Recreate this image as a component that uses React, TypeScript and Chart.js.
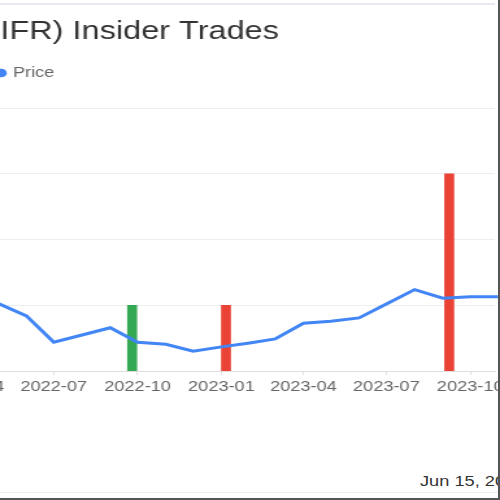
import React, { useEffect, useRef } from "react";
import { Chart, registerables } from "chart.js";

Chart.register(...registerables);

// monthly closing price (first of month)
const priceDates = [
  "2022-04-01", "2022-05-01", "2022-06-01", "2022-07-01", "2022-08-01",
  "2022-09-01", "2022-10-01", "2022-11-01", "2022-12-01", "2023-01-01",
  "2023-02-01", "2023-03-01", "2023-04-01", "2023-05-01", "2023-06-01",
  "2023-07-01", "2023-08-01", "2023-09-01", "2023-10-01", "2023-11-01",
];
const priceValues = [
  12.0, 10.3, 8.4, 4.4, 5.5,
  6.6, 4.4, 4.1, 3.05, 3.7,
  4.3, 4.9, 7.3, 7.6, 8.1,
  10.2, 12.4, 11.1, 11.3, 11.3,
];

// insider trades
const tradeDates = ["2022-09-25", "2023-01-06", "2023-09-08"];
const tradeValues = [10, 10, 30];
const tradeTypes = ["buy", "sell", "sell"];

// x axis
const tickDates = [
  "2022-04-01", "2022-07-01", "2022-10-01", "2023-01-01",
  "2023-04-01", "2023-07-01", "2023-10-01",
];
const tickLabels = [
  "2022-04", "2022-07", "2022-10", "2023-01", "2023-04", "2023-07", "2023-10",
];
const xRange = ["2022-05-03", "2023-10-28"];

const titleText = "(IFR) Insider Trades";
const dateText = "Jun 15, 2024";

const dayOf = (d: string) => Date.parse(d) / 86400000;

const FONT = '"Liberation Sans", Arial, sans-serif';
const BLUE = "#4285f4";
const GREEN = "#34a853";
const RED = "#ea4335";

const legendGap = {
  id: "legendGap",
  beforeInit(chart: any) {
    const legend = chart.legend;
    if (!legend) return;
    const fit = legend.fit;
    legend.fit = function () {
      fit.call(this);
      this.height += 18;
    };
  },
};

const App = () => {
  const canvasRef = useRef<HTMLCanvasElement | null>(null);
  const chartRef = useRef<Chart | null>(null);

  useEffect(() => {
    const ctx = canvasRef.current?.getContext("2d");
    if (!ctx) return;
    chartRef.current?.destroy();

    Chart.defaults.font.family = FONT;

    chartRef.current = new Chart(ctx, {
      type: "bar",
      data: {
        datasets: [
          {
            type: "line",
            label: "Price",
            data: priceDates.map((d, i) => ({ x: dayOf(d), y: priceValues[i] })),
            borderColor: BLUE,
            backgroundColor: BLUE,
            borderWidth: 3,
            pointRadius: 0,
            pointStyle: "circle",
            tension: 0,
            clip: false,
            order: 0,
          } as any,
          {
            type: "bar",
            label: "Trades",
            data: tradeDates.map((d, i) => ({ x: dayOf(d), y: tradeValues[i] })),
            backgroundColor: tradeTypes.map((t) => (t === "buy" ? GREEN : RED)),
            barThickness: 7,
            order: 1,
          } as any,
        ],
      },
      options: {
        responsive: false,
        devicePixelRatio: 1,
        animation: false,
        layout: { autoPadding: false, padding: { top: 0, left: -8, right: 4, bottom: 0 } },
        scales: {
          x: {
            type: "linear",
            min: dayOf(xRange[0]),
            max: dayOf(xRange[1]),
            offset: false,
            afterBuildTicks: (axis: any) => {
              axis.ticks = tickDates.map((d) => ({ value: dayOf(d) }));
            },
            afterFit: (axis: any) => {
              axis.paddingLeft = 0;
              axis.paddingRight = 0;
            },
            ticks: {
              autoSkip: false,
              maxRotation: 0,
              padding: 4,
              color: "#666",
              font: { size: 14 },
              callback: (_v: any, i: number) => tickLabels[i],
            },
            grid: {
              drawOnChartArea: false,
              drawTicks: true,
              tickLength: 4,
              color: "#e0e0e0",
              offset: false,
            },
            border: { display: true, color: "#dddddd" },
          },
          y: {
            min: 0,
            max: 40,
            afterFit: (axis: any) => {
              axis.width = 0;
              axis.paddingTop = 0;
              axis.paddingBottom = 0;
            },
            ticks: { display: false, stepSize: 10 },
            grid: { color: "#eeeeee", drawTicks: false },
            border: { display: false },
          },
        },
        plugins: {
          title: {
            display: true,
            text: titleText,
            align: "start",
            color: "#333",
            font: { size: 25, weight: "normal" },
            padding: { top: 17, bottom: 12 },
          },
          legend: {
            display: true,
            position: "top",
            align: "start",
            labels: {
              usePointStyle: true,
              pointStyle: "circle",
              boxWidth: 4,
              boxHeight: 4,
              padding: 7,
              color: "#666",
              font: { size: 14 },
              filter: (item: any) => item.text === "Price",
            },
          },
          tooltip: { enabled: false },
        },
      },
      plugins: [legendGap],
    });

    return () => {
      chartRef.current?.destroy();
      chartRef.current = null;
    };
  }, []);

  return (
    <div
      style={{
        position: "fixed",
        left: 0,
        top: 0,
        width: 500,
        height: 500,
        overflow: "hidden",
        background: "#fff",
        boxSizing: "border-box",
        borderRight: "2px solid #555",
        borderBottom: "2px solid #555",
      }}
    >
      <div style={{ position: "absolute", left: 0, top: 3, width: 495, height: 2, background: "#e9eaf0" }} />
      <div style={{ position: "absolute", left: 0, top: 492, width: 498, height: 1, background: "#eeeeee" }} />
      <canvas
        ref={canvasRef}
        width={385}
        height={400}
        style={{ position: "absolute", left: 0, top: 0, width: "500px", height: "400px" }}
      />
      <span
        style={{
          position: "absolute",
          left: 420,
          top: 472,
          fontFamily: FONT,
          fontSize: 14,
          lineHeight: "18px",
          color: "#333",
          whiteSpace: "nowrap",
          transform: "scaleX(1.3)",
          transformOrigin: "left center",
        }}
      >
        {dateText}
      </span>
    </div>
  );
};

export default App;
